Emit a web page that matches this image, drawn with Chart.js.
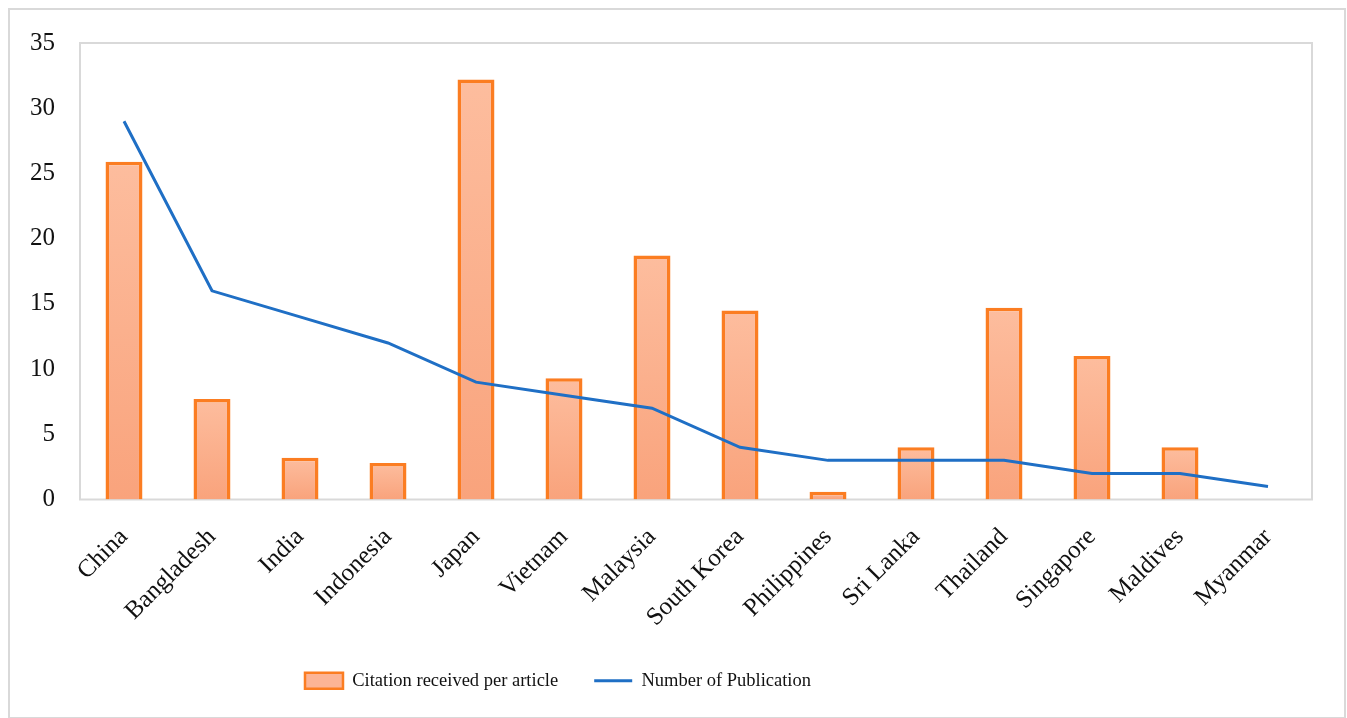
<!DOCTYPE html>
<html>
<head>
<meta charset="utf-8">
<script src="https://cdn.jsdelivr.net/npm/chart.js@4/dist/chart.umd.min.js"></script>
<style>
  html, body { margin: 0; padding: 0; background: #ffffff; }
  #wrap { position: relative; width: 1347px; height: 718px; }
</style>
</head>
<body>
<div id="wrap"><canvas id="chart"></canvas></div>
<script>
// Countries on the category axis
const countries = ['China', 'Bangladesh', 'India', 'Indonesia', 'Japan', 'Vietnam', 'Malaysia',
  'South Korea', 'Philippines', 'Sri Lanka', 'Thailand', 'Singapore', 'Maldives', 'Myanmar'];

// Average citations received per article (bars)
const citationsPerArticle = [25.9, 7.7, 3.2, 2.8, 32.2, 9.3, 18.7, 14.5, 0.6, 4.0, 14.7, 11.0, 4.0, 0];

// Number of publications per country (line)
const publications = [29, 16, 14, 12, 9, 8, 7, 4, 3, 3, 3, 2, 2, 1];

// Value axis ticks
const yTicks = [0, 5, 10, 15, 20, 25, 30, 35];

const SERIF = '"Liberation Serif", "Times New Roman", serif';
const FRAME = '#d9d9d9';
const LEGEND_SHIFT = 98;   // legend sits left of the page centre

// Light-to-deeper vertical gradient for each bar, from its top down to the baseline
function barGradient(ctx) {
  const chart = ctx.chart;
  const area = chart.chartArea;
  if (!area || ctx.type !== 'data') return '#fcb08e';
  const y = chart.scales.y;
  const top = y.getPixelForValue(ctx.parsed.y);
  const base = y.getPixelForValue(0);
  if (!(base > top)) return '#fcb08e';
  const g = chart.ctx.createLinearGradient(0, top, 0, base);
  g.addColorStop(0, '#fdbd9e');
  g.addColorStop(1, '#f9a37c');
  return g;
}

// Outer frame, plot-area box and legend placement
const framePlugin = {
  id: 'frames',
  afterLayout(chart) {
    if (chart.legend) {
      chart.legend.left -= LEGEND_SHIFT;
      chart.legend.right -= LEGEND_SHIFT;
    }
  },
  beforeDraw(chart) {
    const c = chart.ctx;
    c.save();
    c.fillStyle = '#ffffff';
    c.fillRect(0, 0, chart.width, chart.height);
    c.strokeStyle = FRAME;
    c.lineWidth = 2;
    c.strokeRect(9, 9, chart.width - 11, chart.height - 9);
    c.restore();
  },
  beforeDatasetsDraw(chart) {
    const a = chart.chartArea;
    const c = chart.ctx;
    c.save();
    c.strokeStyle = FRAME;
    c.lineWidth = 2;
    c.strokeRect(a.left, a.top, a.right - a.left, a.bottom - a.top);
    c.restore();
  }
};

new Chart(document.getElementById('chart'), {
  data: {
    labels: countries,
    datasets: [
      {
        type: 'line',
        label: 'Number of Publication',
        data: publications,
        borderColor: '#1f6fc5',
        backgroundColor: '#1f6fc5',
        borderWidth: 3,
        pointRadius: 0,
        pointHoverRadius: 0,
        tension: 0,
        order: 1
      },
      {
        type: 'bar',
        label: 'Citation received per article',
        data: citationsPerArticle,
        backgroundColor: barGradient,
        borderColor: '#fb7d22',
        borderWidth: 3.5,
        borderSkipped: 'bottom',
        barPercentage: 0.42,
        categoryPercentage: 1.0,
        order: 2
      }
    ]
  },
  options: {
    responsive: true,
    maintainAspectRatio: false,
    animation: false,
    events: [],
    layout: { padding: { top: 43, left: 0, right: 35, bottom: 18 } },
    scales: {
      x: {
        grid: { display: false, drawTicks: false },
        border: { display: false },
        ticks: {
          color: '#111111',
          font: { family: SERIF, size: 25 },
          minRotation: 45,
          maxRotation: 45,
          autoSkip: false,
          padding: 23
        },
        afterFit(scale) { scale.height = 136; }
      },
      y: {
        min: 0,
        max: 35,
        grid: { display: false, drawTicks: false },
        border: { display: false },
        afterBuildTicks(scale) { scale.ticks = yTicks.map(v => ({ value: v })); },
        ticks: {
          color: '#111111',
          font: { family: SERIF, size: 25 },
          padding: 25
        },
        afterFit(scale) { scale.width = 80; }
      }
    },
    plugins: {
      tooltip: { enabled: false },
      legend: {
        position: 'bottom',
        reverse: true,
        labels: {
          color: '#111111',
          font: { family: SERIF, size: 18.5 },
          usePointStyle: true,
          pointStyleWidth: 38,
          boxHeight: 16,
          padding: 36,
          generateLabels(chart) {
            return chart.data.datasets.map((ds, i) => ({
              text: ds.label,
              datasetIndex: i,
              fillStyle: ds.type === 'bar' ? '#fcb496' : ds.borderColor,
              strokeStyle: ds.borderColor,
              lineWidth: ds.type === 'bar' ? 2.5 : 3,
              pointStyle: ds.type === 'bar' ? 'rect' : 'line',
              fontColor: '#111111',
              hidden: false
            }));
          }
        }
      }
    }
  },
  plugins: [framePlugin]
});
</script>
</body>
</html>
